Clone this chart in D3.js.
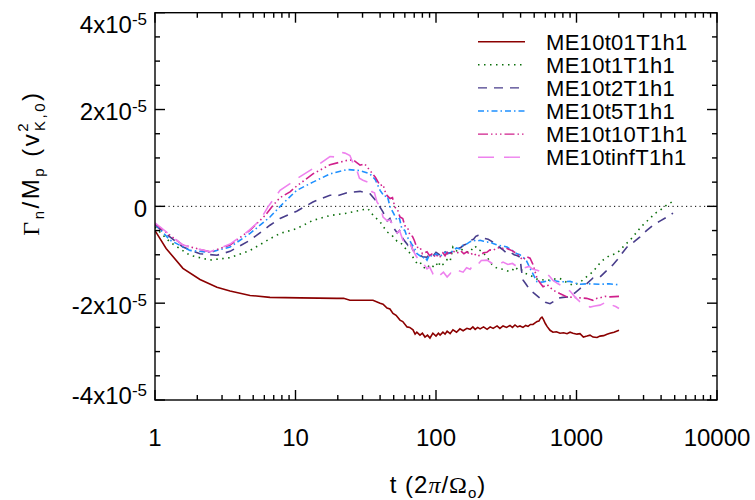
<!DOCTYPE html>
<html><head><meta charset="utf-8">
<script src="https://cdn.jsdelivr.net/npm/d3@7"></script>
<style>body{margin:0;background:#fff}svg{display:block}</style>
</head><body>
<svg id="c" width="755" height="500"></svg>
<script>
// values are in units of 1e-5 (v_K,0^2)
const seriesNames = ["ME10t01T1h1","ME10t1T1h1","ME10t2T1h1","ME10t5T1h1","ME10t10T1h1","ME10tinfT1h1"];
const xTickValues = [1,10,100,1000,10000];
const xTickLabels = ["1","10","100","1000","10000"];
const yTickValues = [-4,-2,0,2,4];
const yTickLabels = [["-4x10","-5"],["-2x10","-5"],["0",""],["2x10","-5"],["4x10","-5"]];

const red = [[1,-0.50],[1.2,-0.87],[1.58,-1.28],[2.09,-1.51],[2.76,-1.67],[3.42,-1.75],[4.75,-1.84],[6.58,-1.88],[10.8,-1.89],[19.7,-1.90],[22,-1.90],[24.4,-1.94],[35.6,-1.94],[40,-2.0],[42,-2.02],[44.8,-2.1],[47,-2.12],[49.4,-2.21],[52,-2.25],[55.4,-2.35],[58,-2.38],[62.2,-2.49],[65,-2.5],[68.6,-2.55],[71,-2.64],[73,-2.6],[76.9,-2.66],[80,-2.62],[83.5,-2.7],[87,-2.66],[90.6,-2.72],[95,-2.62],[100,-2.68],[104,-2.62],[107,-2.66],[112,-2.6],[116,-2.64],[120,-2.58],[126,-2.63],[132,-2.55],[140,-2.6],[148,-2.53],[156,-2.57],[166,-2.52],[175,-2.54],[183,-2.49],[190,-2.54],[198,-2.5],[206,-2.53],[218,-2.49],[231,-2.54],[243,-2.49],[255,-2.52],[272,-2.47],[285,-2.52],[300,-2.47],[318,-2.5],[336,-2.46],[350,-2.5],[365,-2.45],[380,-2.49],[396,-2.47],[416,-2.5],[435,-2.46],[452,-2.48],[470,-2.44],[490,-2.44],[510,-2.4],[524,-2.38],[540,-2.37],[555,-2.31],[568,-2.29],[580,-2.33],[600,-2.42],[617,-2.48],[648,-2.56],[680,-2.6],[720,-2.59],[763,-2.62],[810,-2.61],[856,-2.63],[900,-2.6],[944,-2.62],[1008,-2.64],[1059,-2.63],[1120,-2.7],[1188,-2.68],[1248,-2.66],[1311,-2.7],[1400,-2.71],[1470,-2.68],[1560,-2.67],[1649,-2.64],[1731,-2.62],[1850,-2.6],[2007,-2.56]];

const green = [[1,-0.43],[1.28,-0.74],[1.77,-1.01],[2.46,-1.11],[3.42,-1.06],[4.75,-0.91],[6.58,-0.67],[7.76,-0.56],[10.2,-0.46],[13.3,-0.29],[17.6,-0.19],[23.3,-0.14],[31.2,-0.06],[32.8,-0.05],[36,-0.2],[40,-0.32],[44.8,-0.53],[48,-0.58],[52.8,-0.72],[56,-0.75],[62.2,-0.91],[66,-0.98],[73.3,-1.18],[77,-1.15],[80,-1.25],[86.3,-1.29],[90,-1.2],[95.2,-1.24],[100,-1.17],[104,-1.25],[107,-1.15],[112,-1.2],[120,-1.1],[126,-1.14],[132,-0.84],[140,-0.92],[150,-0.88],[161,-0.93],[175,-0.95],[183,-0.85],[190,-0.82],[198,-0.9],[206,-0.91],[220,-0.98],[231,-1.05],[250,-1.2],[272,-1.28],[300,-1.3],[336,-1.35],[350,-1.32],[365,-1.25],[380,-1.3],[396,-1.28],[430,-1.38],[467,-1.42],[520,-1.5],[617,-1.53],[700,-1.5],[763,-1.49],[850,-1.57],[944,-1.63],[1008,-1.6],[1059,-1.57],[1150,-1.48],[1311,-1.35],[1420,-1.22],[1544,-1.11],[1731,-1.01],[1900,-0.98],[2040,-0.91],[2200,-0.8],[2403,-0.70],[2600,-0.58],[2831,-0.45],[3050,-0.35],[3335,-0.25],[3600,-0.15],[3930,-0.08],[4400,0.03],[4783,0.09]];

const purple = [[1,-0.39],[1.58,-0.84],[2.09,-0.98],[2.76,-1.01],[3.42,-0.93],[4.75,-0.70],[6.58,-0.39],[7.76,-0.25],[10.2,-0.10],[13.3,0.09],[17.6,0.23],[20,0.22],[23.3,0.28],[28.8,0.31],[33.9,0.26],[38,0.09],[42,-0.12],[45,-0.3],[47,-0.25],[49.4,-0.43],[53,-0.55],[55,-0.5],[58.2,-0.67],[63,-0.8],[65,-0.72],[68.6,-0.91],[75,-0.98],[80,-1.04],[86.3,-1.05],[90,-0.98],[95,-1.03],[100,-0.95],[107,-1.01],[114,-0.92],[120,-0.98],[132,-0.94],[142,-0.88],[150,-0.85],[158,-0.8],[166,-0.78],[175,-0.7],[185,-0.68],[192,-0.62],[199,-0.60],[210,-0.64],[220,-0.66],[235,-0.68],[255,-0.74],[270,-0.8],[285,-0.85],[300,-0.9],[320,-0.97],[340,-0.95],[360,-1.0],[380,-1.02],[396,-1.05],[405,-1.3],[416,-1.52],[440,-1.62],[467,-1.73],[500,-1.8],[550,-1.90],[600,-1.98],[648,-2.01],[690,-1.96],[726,-1.90],[800,-1.88],[899,-1.87],[980,-1.78],[1059,-1.70],[1180,-1.6],[1311,-1.48],[1470,-1.46],[1649,-1.32],[1800,-1.22],[1943,-1.11],[2100,-0.98],[2288,-0.84],[2550,-0.74],[2831,-0.63],[3150,-0.5],[3504,-0.39],[3950,-0.3],[4406,-0.22],[4863,-0.14]];

const blue = [[1,-0.36],[1.28,-0.70],[1.77,-0.91],[2.46,-0.95],[3.42,-0.84],[4.75,-0.56],[6.58,-0.22],[8.15,0.06],[10.2,0.33],[13.3,0.50],[17.6,0.67],[23.3,0.76],[28.8,0.74],[33.9,0.67],[37,0.55],[40,0.33],[43,0.2],[45,0.22],[47.1,-0.01],[50,-0.15],[52.8,-0.29],[55,-0.25],[57,-0.45],[60,-0.5],[62.2,-0.63],[65,-0.7],[67,-0.78],[70,-0.85],[73.3,-0.98],[77,-1.02],[80,-1.08],[83,-1.04],[86.3,-1.11],[90,-1.0],[95,-1.05],[100,-0.98],[107,-1.04],[113,-0.96],[120,-0.95],[126,-0.98],[132,-0.91],[140,-0.86],[148,-0.88],[156,-0.80],[165,-0.78],[175,-0.73],[185,-0.7],[195,-0.72],[206,-0.70],[218,-0.72],[230,-0.74],[242,-0.73],[255,-0.77],[275,-0.8],[300,-0.82],[320,-0.84],[345,-0.9],[377,-0.98],[396,-1.0],[416,-1.05],[440,-1.12],[467,-1.28],[495,-1.42],[524,-1.56],[550,-1.57],[578,-1.56],[620,-1.54],[680,-1.53],[760,-1.56],[899,-1.55],[960,-1.58],[1059,-1.61],[1200,-1.6],[1470,-1.61],[1700,-1.6],[2007,-1.62]];

const magenta = [[1,-0.36],[1.58,-0.80],[2.46,-0.94],[3.42,-0.80],[4.75,-0.49],[6.07,-0.19],[6.92,0.02],[7.76,0.18],[9.14,0.30],[10.2,0.42],[13.3,0.67],[17.6,0.86],[23.3,0.95],[25.7,0.96],[28.8,0.85],[31,0.88],[33.9,0.74],[37,0.6],[40,0.43],[42,0.45],[44,0.25],[47.1,0.16],[49,0.18],[51,-0.02],[53,-0.05],[55.4,-0.22],[58,-0.25],[60,-0.4],[63,-0.45],[65.3,-0.60],[68,-0.62],[70,-0.7],[73,-0.85],[76.9,-0.84],[80,-0.98],[86.3,-0.94],[90,-1.02],[95.2,-0.97],[99,-1.06],[103,-1.0],[107,-1.04],[112,-0.96],[116,-1.02],[120,-0.95],[126,-1.0],[132,-0.92],[140,-0.97],[150,-0.92],[158,-0.98],[166,-0.94],[175,-1.0],[185,-0.96],[195,-1.03],[206,-1.01],[218,-0.96],[230,-0.95],[242,-0.9],[255,-0.91],[270,-0.86],[290,-0.85],[305,-0.88],[320,-0.87],[350,-0.92],[377,-0.98],[396,-1.05],[416,-1.11],[440,-1.04],[467,-1.07],[490,-1.2],[524,-1.49],[550,-1.58],[578,-1.66],[620,-1.62],[680,-1.73],[760,-1.8],[856,-1.87],[950,-1.88],[1059,-1.89],[1180,-1.9],[1311,-1.94],[1400,-1.9],[1470,-1.89],[1600,-1.86],[1731,-1.87],[2007,-1.86]];

const pink = [[1,-0.34],[1.58,-0.80],[2.46,-0.94],[3.42,-0.78],[4.52,-0.53],[5.59,-0.29],[6.37,-0.01],[7.76,0.33],[9.14,0.47],[10.2,0.57],[13.3,0.78],[17.6,1.03],[19,1.02],[20.7,1.12],[22.5,1.1],[24.4,1.05],[26,0.85],[27.4,0.74],[28.5,0.58],[30.2,0.54],[32.8,0.5],[35,0.3],[36.5,0.28],[38,0.09],[40,0.0],[42,-0.22],[45,-0.3],[47,-0.28],[49.4,-0.39],[53,-0.55],[55,-0.5],[58.2,-0.70],[63,-0.8],[65,-0.75],[68.6,-0.91],[72,-1.02],[75,-1.1],[80,-1.15],[83,-1.22],[86.3,-1.29],[90,-1.25],[95,-1.39],[100,-1.33],[107,-1.42],[113,-1.36],[120,-1.46],[127,-1.38],[135,-1.42],[145,-1.33],[156,-1.36],[165,-1.27],[175,-1.3],[185,-1.2],[196,-1.22],[210,-1.12],[231,-1.11],[248,-1.17],[265,-1.14],[282,-1.19],[300,-1.15],[325,-1.2],[350,-1.18],[375,-1.24],[396,-1.22],[425,-1.27],[460,-1.24],[490,-1.3],[524,-1.32],[570,-1.36],[617,-1.39],[650,-1.46],[680,-1.53],[740,-1.6],[802,-1.66],[899,-1.75],[980,-1.88],[1059,-1.97],[1150,-2.02],[1248,-2.08],[1350,-2.06],[1470,-2.04],[1649,-1.97],[1789,-2.04],[1900,-2.07],[2007,-2.11]];

const seriesData = [red, green, purple, blue, magenta, pink];
const seriesColors = ["#8b0000","#0a6e0a","#483d8b","#1e90ff","#d0208c","#ee82ee"];
const seriesDash = [null,"1.5,4.5","9,7","6,3,1.5,3","10,3,1.5,3,1.5,3,1.5,3","16,10"];

const svg = d3.select("#c");
const L = 155, R = 717, T = 12.7, B = 400;
const x = d3.scaleLog().domain([1,1e4]).range([L,R]);
const y = d3.scaleLinear().domain([-4,4]).range([B,T]);
const SANS = "'Liberation Sans', Arial, Helvetica, sans-serif";
const SERIF = "'Liberation Serif', 'DejaVu Serif', serif";

// zero line
svg.append("line").attr("x1",L).attr("x2",R).attr("y1",y(0)).attr("y2",y(0))
  .attr("stroke","#000").attr("stroke-width",1).attr("stroke-dasharray","1.2,3.3");

// curves
svg.append("clipPath").attr("id","pc").append("rect")
  .attr("x",L).attr("y",T).attr("width",R-L).attr("height",B-T);
const line = d3.line().x(d=>x(d[0])).y(d=>y(d[1]));
seriesData.forEach((s,i)=>{
  svg.append("path").attr("d",line(s)).attr("fill","none")
    .attr("stroke",seriesColors[i]).attr("stroke-width",1.6)
    .attr("stroke-dasharray",seriesDash[i]).attr("clip-path","url(#pc)");
});

// frame
const g = svg.append("g").attr("stroke","#000").attr("stroke-width",1.4);
g.append("rect").attr("x",L).attr("y",T).attr("width",R-L).attr("height",B-T).attr("fill","none");

// x ticks
const xMinor = [];
for (let k=0;k<4;k++) for (let m=2;m<=9;m++) xMinor.push(m*Math.pow(10,k));
xTickValues.forEach(v=>{
  g.append("line").attr("x1",x(v)).attr("x2",x(v)).attr("y1",B).attr("y2",B-10);
  g.append("line").attr("x1",x(v)).attr("x2",x(v)).attr("y1",T).attr("y2",T+10);
});
xMinor.forEach(v=>{
  g.append("line").attr("x1",x(v)).attr("x2",x(v)).attr("y1",B).attr("y2",B-5);
  g.append("line").attr("x1",x(v)).attr("x2",x(v)).attr("y1",T).attr("y2",T+5);
});
// y ticks
for (let v=-4; v<=4.001; v+=0.5) {
  const major = Math.abs(v/2 - Math.round(v/2))<1e-6;
  const len = major?10:5;
  g.append("line").attr("x1",L).attr("x2",L+len).attr("y1",y(v)).attr("y2",y(v));
  g.append("line").attr("x1",R).attr("x2",R-len).attr("y1",y(v)).attr("y2",y(v));
}

// x tick labels
xTickValues.forEach((v,i)=>{
  svg.append("text").attr("x",x(v)).attr("y",446).attr("text-anchor","middle")
    .attr("font-family",SANS).attr("font-size",24).attr("fill","#000").text(xTickLabels[i]);
});
// y tick labels
yTickValues.forEach((v,i)=>{
  const yy = Math.max(T+12, Math.min(B-5, y(v)+2));
  const t = svg.append("text").attr("x",147).attr("y",yy+8.5).attr("text-anchor","end")
    .attr("font-family",SANS).attr("font-size",24).attr("fill","#000");
  t.append("tspan").text(yTickLabels[i][0]);
  if (yTickLabels[i][1]) t.append("tspan").attr("font-size",17).attr("dy",-8).text(yTickLabels[i][1]);
});

// x title
const xt = svg.append("text").attr("x",438).attr("y",493).attr("text-anchor","middle")
  .attr("font-family",SANS).attr("font-size",24).attr("letter-spacing",1).attr("fill","#000");
xt.append("tspan").text("t (2");
xt.append("tspan").attr("font-family",SERIF).attr("font-style","italic").text("π");
xt.append("tspan").text("/");
xt.append("tspan").attr("font-family",SERIF).text("Ω");
xt.append("tspan").attr("font-size",15).attr("dy",5).text("o");
xt.append("tspan").attr("dy",-5).text(")");

// y title
const yt = svg.append("text").attr("transform","translate(39,163) rotate(-90)")
  .attr("text-anchor","middle").attr("font-family",SANS).attr("font-size",24)
  .attr("letter-spacing",2.5).attr("fill","#000");
yt.append("tspan").attr("font-family",SERIF).text("Γ");
yt.append("tspan").attr("font-size",15).attr("dy",5).text("n");
yt.append("tspan").attr("dy",-5).text("/M");
yt.append("tspan").attr("font-size",15).attr("dy",5).text("p");
yt.append("tspan").attr("dy",-5).text(" (v");
yt.append("tspan").attr("font-size",15).attr("dy",-11).text("2");
yt.append("tspan").attr("font-size",15).attr("dx",-10).attr("dy",17).text("K,0");
yt.append("tspan").attr("dy",-6).text(")");

// legend
const legY0 = 41.7, legDY = 23.1;
seriesNames.forEach((n,i)=>{
  const yy = legY0 + i*legDY;
  svg.append("line").attr("x1",478).attr("x2",525).attr("y1",yy).attr("y2",yy)
    .attr("stroke",seriesColors[i]).attr("stroke-width",1.4).attr("stroke-dasharray",seriesDash[i]);
  svg.append("text").attr("x",546).attr("y",yy+8).attr("font-family",SANS).attr("font-size",22)
    .attr("letter-spacing",0.3).attr("fill","#000").text(n);
});
</script>
</body></html>
